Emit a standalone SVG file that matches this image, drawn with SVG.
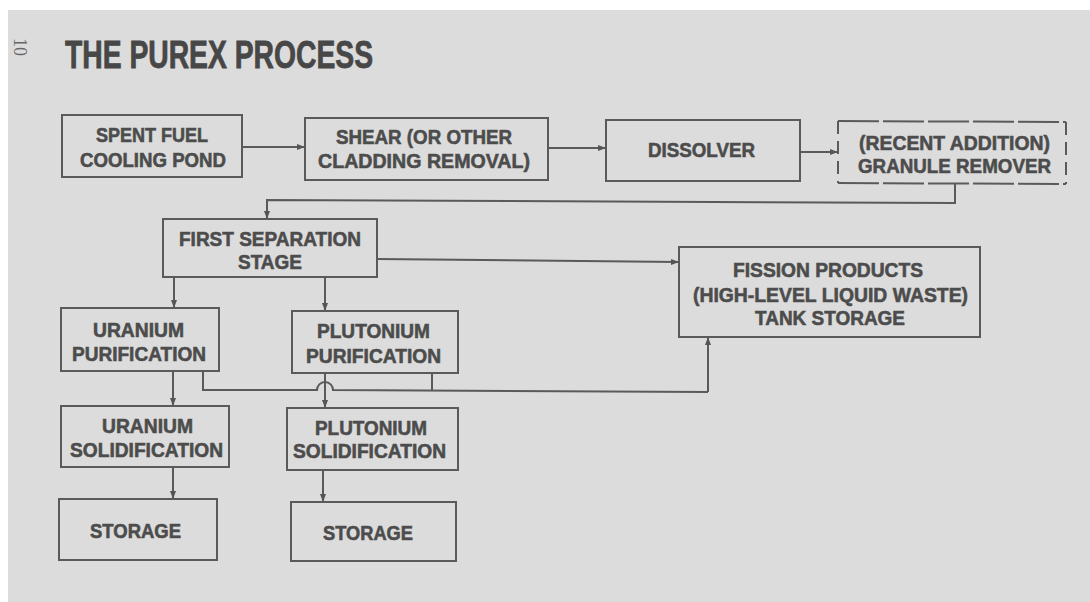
<svg xmlns="http://www.w3.org/2000/svg" width="1090" height="602" viewBox="0 0 1090 602">
<defs>
<marker id="arr" viewBox="0 0 8 8" refX="8" refY="4" markerWidth="8" markerHeight="8" markerUnits="userSpaceOnUse" orient="auto">
<path d="M0,1 L8,4 L0,7 Z" fill="#555"/>
</marker>
</defs>
<style>
.box{fill:none;stroke:#5a5a5a;stroke-width:2}
.dash{fill:none;stroke:#5a5a5a;stroke-width:2}
.t{font-family:"Liberation Sans",Arial,sans-serif;font-weight:bold;font-size:21px;fill:#4c4c4c;stroke:#4c4c4c;stroke-width:0.6}
.title{font-family:"Liberation Sans",Arial,sans-serif;font-weight:bold;font-size:39px;fill:#474747;stroke:#474747;stroke-width:0.8}
.c{fill:none;stroke:#5a5a5a;stroke-width:2}
.ca{fill:none;stroke:#5a5a5a;stroke-width:2;marker-end:url(#arr)}
</style>
<rect x="0" y="0" width="1090" height="602" fill="#ffffff"/>
<rect x="8" y="10" width="1082" height="592" fill="#dcdcdc"/>
<text x="14" y="38" transform="rotate(90 14 38)" font-family="Liberation Serif,serif" font-size="18" fill="#666">10</text>
<text class="title" x="65" y="68" textLength="308" lengthAdjust="spacingAndGlyphs">THE PUREX PROCESS</text>

<g id="connectors">
<path class="ca" d="M242,147 L305,147"/>
<path class="ca" d="M548,148 L606,148"/>
<path class="ca" d="M800,152 L838,152"/>
<path class="ca" d="M955,183 L955,203 L267,200 L267,219"/>
<path class="ca" d="M377,259 L679,262"/>
<path class="ca" d="M174,277 L174,308"/>
<path class="ca" d="M325,277 L325,311"/>
<path class="ca" d="M173,371 L173,406"/>
<path class="ca" d="M325,373 L325,408"/>
<path class="ca" d="M173,467 L173,499"/>
<path class="ca" d="M323,470 L323,502"/>
<path class="c" d="M203,371 L203,390 L317,390 A8,8 0 0 1 333,390 L708,392"/>
<path class="ca" d="M708,392 L708,337"/>
<path class="c" d="M432,373 L432,391"/>
</g>

<g id="spent-fuel">
<rect class="box" x="62" y="115" width="180" height="62"/>
<text class="t" x="96" y="142" textLength="112" lengthAdjust="spacingAndGlyphs">SPENT FUEL</text>
<text class="t" x="80" y="167" textLength="146" lengthAdjust="spacingAndGlyphs">COOLING POND</text>
</g>

<g id="shear">
<rect class="box" x="305" y="118" width="243" height="62"/>
<text class="t" x="336" y="144" textLength="176" lengthAdjust="spacingAndGlyphs">SHEAR (OR OTHER</text>
<text class="t" x="318" y="168" textLength="212" lengthAdjust="spacingAndGlyphs">CLADDING REMOVAL)</text>
</g>

<g id="dissolver">
<rect class="box" x="606" y="120" width="194" height="61"/>
<text class="t" x="648" y="157" textLength="107" lengthAdjust="spacingAndGlyphs">DISSOLVER</text>
</g>

<g id="granule-remover">
<path class="dash" d="M838,121 L1066,122" stroke-dasharray="41 4"/>
<path class="dash" d="M838,183 L1066,184" stroke-dasharray="41 4"/>
<path class="dash" d="M838,121 L838,183" stroke-dasharray="13 7"/>
<path class="dash" d="M1066,122 L1066,184" stroke-dasharray="13 7"/>
<text class="t" x="859" y="150" textLength="191" lengthAdjust="spacingAndGlyphs">(RECENT ADDITION)</text>
<text class="t" x="858" y="173" textLength="193" lengthAdjust="spacingAndGlyphs">GRANULE REMOVER</text>
</g>

<g id="first-separation">
<rect class="box" x="163" y="219" width="214" height="58"/>
<text class="t" x="179" y="246" textLength="182" lengthAdjust="spacingAndGlyphs">FIRST SEPARATION</text>
<text class="t" x="238" y="269" textLength="64" lengthAdjust="spacingAndGlyphs">STAGE</text>
</g>

<g id="fission-products">
<rect class="box" x="679" y="247" width="301" height="90"/>
<text class="t" x="733" y="277" textLength="190" lengthAdjust="spacingAndGlyphs">FISSION PRODUCTS</text>
<text class="t" x="693" y="302" textLength="275" lengthAdjust="spacingAndGlyphs">(HIGH-LEVEL LIQUID WASTE)</text>
<text class="t" x="755" y="325" textLength="150" lengthAdjust="spacingAndGlyphs">TANK STORAGE</text>
</g>

<g id="uranium-purification">
<rect class="box" x="61" y="308" width="158" height="63"/>
<text class="t" x="93" y="337" textLength="91" lengthAdjust="spacingAndGlyphs">URANIUM</text>
<text class="t" x="72" y="361" textLength="134" lengthAdjust="spacingAndGlyphs">PURIFICATION</text>
</g>

<g id="plutonium-purification">
<rect class="box" x="292" y="311" width="166" height="62"/>
<text class="t" x="317" y="338" textLength="113" lengthAdjust="spacingAndGlyphs">PLUTONIUM</text>
<text class="t" x="306" y="363" textLength="135" lengthAdjust="spacingAndGlyphs">PURIFICATION</text>
</g>

<g id="uranium-solidification">
<rect class="box" x="61" y="406" width="168" height="61"/>
<text class="t" x="102" y="433" textLength="91" lengthAdjust="spacingAndGlyphs">URANIUM</text>
<text class="t" x="70" y="457" textLength="153" lengthAdjust="spacingAndGlyphs">SOLIDIFICATION</text>
</g>

<g id="plutonium-solidification">
<rect class="box" x="287" y="408" width="171" height="62"/>
<text class="t" x="315" y="435" textLength="112" lengthAdjust="spacingAndGlyphs">PLUTONIUM</text>
<text class="t" x="293" y="458" textLength="153" lengthAdjust="spacingAndGlyphs">SOLIDIFICATION</text>
</g>

<g id="uranium-storage">
<rect class="box" x="59" y="499" width="158" height="61"/>
<text class="t" x="90" y="538" textLength="91" lengthAdjust="spacingAndGlyphs">STORAGE</text>
</g>

<g id="plutonium-storage">
<rect class="box" x="291" y="502" width="165" height="59"/>
<text class="t" x="323" y="540" textLength="90" lengthAdjust="spacingAndGlyphs">STORAGE</text>
</g>
</svg>
